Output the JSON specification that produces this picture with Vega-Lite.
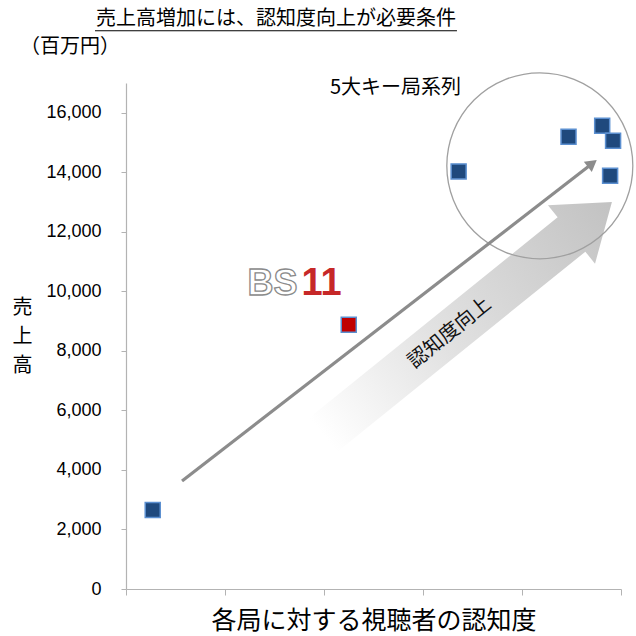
{
  "$schema": "https://vega.github.io/schema/vega-lite/v6.json",
  "width": 495,
  "height": 506,
  "autosize": "none",
  "padding": {"left": 126, "top": 83, "right": 15, "bottom": 47},
  "background": "white",
  "config": {"view": {"stroke": null}},
  "datasets": {
    "stations": [
      {"x": 0.27, "y": 2655, "group": "other"},
      {"x": 2.25, "y": 8874, "group": "BS11"},
      {"x": 3.36, "y": 14030, "group": "key"},
      {"x": 4.47, "y": 15193, "group": "key"},
      {"x": 4.81, "y": 15563, "group": "key"},
      {"x": 4.92, "y": 15059, "group": "key"},
      {"x": 4.89, "y": 13882, "group": "key"}
    ],
    "bigArrow": [{"x": 3.45, "y": 9092}],
    "arrowText": [{"x": 3.27, "y": 8605, "label": "認知度向上"}],
    "ring": [{"x": 4.18, "y": 14218}],
    "thinArrow": [{"x": 0.566, "y": 3630, "x2": 4.71, "y2": 14296}],
    "notes": [
      {"x": 2.06, "y": 16840, "label": "5大キー局系列"}
    ],
    "titleRow": [{"x": 1.515, "y": 19160, "label": "売上高増加には、認知度向上が必要条件"}],
    "underline": [{"x": -0.313, "x2": 3.343, "y": 18756}],
    "unit": [{"x": -1.07, "y": 18218, "label": "（百万円）"}],
    "logoBS": [{"x": 1.48, "y": 10252, "label": "BS"}],
    "logo11": [{"x": 1.975, "y": 10252, "label": "11"}]
  },
  "layer": [
    {
      "data": {"name": "bigArrow"},
      "mark": {
        "type": "point",
        "shape": "M-1,-0.119L0.72,-0.119L0.72,-0.202L1,0L0.72,0.202L0.72,0.119L-1,0.119Z",
        "size": 137641,
        "angle": 321.1,
        "filled": true,
        "opacity": 1,
        "strokeWidth": 0,
        "fill": {
          "gradient": "linear", "x1": 0, "y1": 0, "x2": 1, "y2": 0,
          "stops": [
            {"offset": 0, "color": "#ffffff"},
            {"offset": 0.4, "color": "#e2e2e2"},
            {"offset": 1, "color": "#c2c2c2"}
          ]
        }
      },
      "encoding": {
        "x": {"field": "x", "type": "quantitative", "scale": {"domain": [0, 5], "nice": false, "zero": false},
          "axis": {
            "values": [0, 1, 2, 3, 4, 5], "labels": false, "grid": false,
            "domainColor": "#b3b3b3", "tickColor": "#b3b3b3", "tickSize": 6, "domainWidth": 1.2,
            "title": "各局に対する視聴者の認知度", "titleFont": "Noto Sans CJK JP", "titleFontSize": 25,
            "titleFontWeight": "normal", "titleColor": "#000", "titlePadding": 13
          }},
        "y": {"field": "y", "type": "quantitative", "scale": {"domain": [0, 17000], "nice": false, "zero": true},
          "axis": {
            "values": [0, 2000, 4000, 6000, 8000, 10000, 12000, 14000, 16000], "grid": false,
            "format": ",d", "labelFont": "Liberation Sans", "labelFontSize": 18, "labelColor": "#000",
            "labelPadding": 20, "tickSize": 5,
            "domainColor": "#b3b3b3", "tickColor": "#b3b3b3", "domainWidth": 1.2,
            "title": ["売", "上", "高"], "titleAngle": 0, "titleFont": "Noto Sans CJK JP", "titleFontSize": 20,
            "titleFontWeight": "normal", "titleColor": "#000", "titleLineHeight": 29,
            "titleAlign": "center", "titleBaseline": "middle", "titleX": -104, "titleY": 224
          }}
      }
    },
    {
      "data": {"name": "arrowText"},
      "mark": {"type": "text", "angle": 321.1, "font": "Noto Sans CJK JP", "fontSize": 20, "color": "#111", "align": "center", "baseline": "middle"},
      "encoding": {
        "x": {"field": "x", "type": "quantitative"},
        "y": {"field": "y", "type": "quantitative"},
        "text": {"field": "label"}
      }
    },
    {
      "data": {"name": "ring"},
      "mark": {"type": "point", "shape": "circle", "size": 34600, "filled": false, "stroke": "#a0a0a0", "strokeWidth": 1.3, "opacity": 1},
      "encoding": {
        "x": {"field": "x", "type": "quantitative"},
        "y": {"field": "y", "type": "quantitative"}
      }
    },
    {
      "data": {"name": "thinArrow"},
      "mark": {"type": "rule", "stroke": "#8c8c8c", "strokeWidth": 3.2},
      "encoding": {
        "x": {"field": "x", "type": "quantitative"},
        "y": {"field": "y", "type": "quantitative"},
        "x2": {"field": "x2"},
        "y2": {"field": "y2"}
      }
    },
    {
      "data": {"name": "thinArrow"},
      "mark": {"type": "point", "shape": "triangle-right", "size": 170, "angle": 322.3, "filled": true, "fill": "#8c8c8c", "opacity": 1},
      "encoding": {
        "x": {"field": "x2", "type": "quantitative"},
        "y": {"field": "y2", "type": "quantitative"}
      }
    },
    {
      "data": {"name": "stations"},
      "mark": {"type": "point", "shape": "square", "size": 225, "filled": true, "opacity": 1, "stroke": "#5b8fd0", "strokeWidth": 1.5},
      "encoding": {
        "x": {"field": "x", "type": "quantitative"},
        "y": {"field": "y", "type": "quantitative"},
        "fill": {"field": "group", "type": "nominal", "legend": null,
          "scale": {"domain": ["key", "other", "BS11"], "range": ["#1f497d", "#1f497d", "#c00000"]}}
      }
    },
    {
      "data": {"name": "notes"},
      "mark": {"type": "text", "font": "Noto Sans CJK JP", "fontSize": 20, "color": "#000", "align": "left", "baseline": "middle"},
      "encoding": {
        "x": {"field": "x", "type": "quantitative"},
        "y": {"field": "y", "type": "quantitative"},
        "text": {"field": "label"}
      }
    },
    {
      "data": {"name": "titleRow"},
      "mark": {"type": "text", "font": "Noto Sans CJK JP", "fontSize": 20, "color": "#000", "align": "center", "baseline": "middle"},
      "encoding": {
        "x": {"field": "x", "type": "quantitative"},
        "y": {"field": "y", "type": "quantitative"},
        "text": {"field": "label"}
      }
    },
    {
      "data": {"name": "underline"},
      "mark": {"type": "rule", "stroke": "#000", "strokeWidth": 1.2},
      "encoding": {
        "x": {"field": "x", "type": "quantitative"},
        "x2": {"field": "x2"},
        "y": {"field": "y", "type": "quantitative"}
      }
    },
    {
      "data": {"name": "unit"},
      "mark": {"type": "text", "font": "Noto Sans CJK JP", "fontSize": 20, "color": "#000", "align": "left", "baseline": "middle"},
      "encoding": {
        "x": {"field": "x", "type": "quantitative"},
        "y": {"field": "y", "type": "quantitative"},
        "text": {"field": "label"}
      }
    },
    {
      "data": {"name": "logoBS"},
      "mark": {"type": "text", "font": "Liberation Sans", "fontSize": 36, "fontWeight": "bold", "fill": "#ffffff", "stroke": "#8a8a8a", "strokeWidth": 1.3, "align": "center", "baseline": "middle"},
      "encoding": {
        "x": {"field": "x", "type": "quantitative"},
        "y": {"field": "y", "type": "quantitative"},
        "text": {"field": "label"}
      }
    },
    {
      "data": {"name": "logo11"},
      "mark": {"type": "text", "font": "Liberation Sans", "fontSize": 38, "fontWeight": "bold", "fill": "#c62828", "align": "center", "baseline": "middle"},
      "encoding": {
        "x": {"field": "x", "type": "quantitative"},
        "y": {"field": "y", "type": "quantitative"},
        "text": {"field": "label"}
      }
    }
  ]
}
